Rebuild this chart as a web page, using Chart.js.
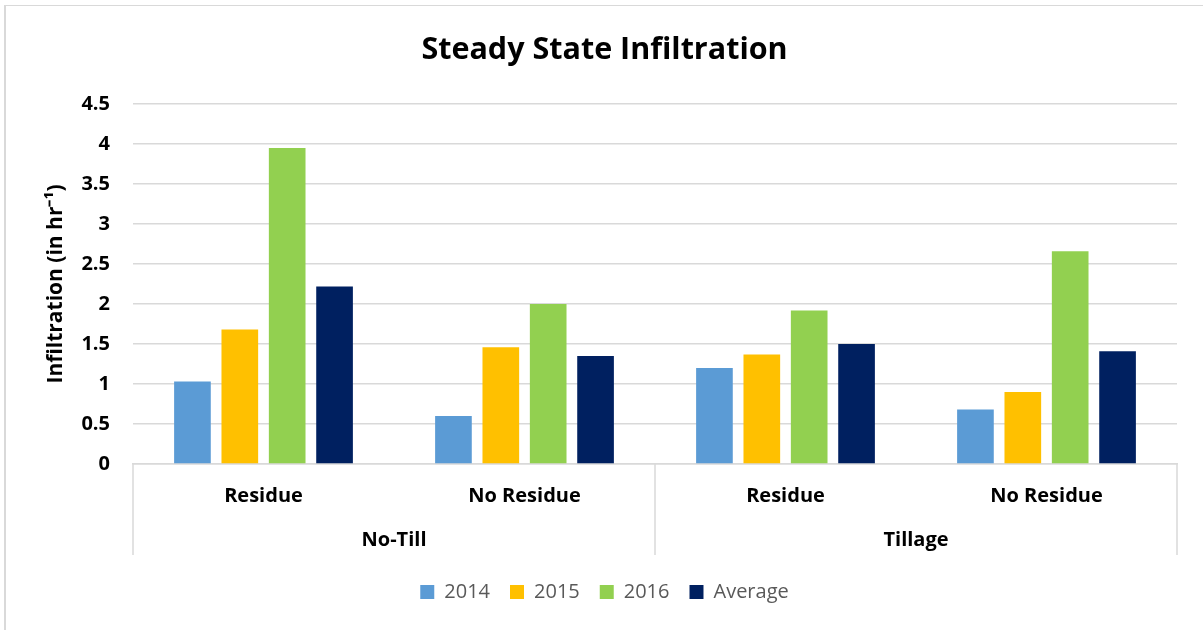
<!DOCTYPE html>
<html>
<head>
<meta charset="utf-8">
<script src="https://cdn.jsdelivr.net/npm/chart.js@4/dist/chart.umd.min.js"></script>
<style>
  html, body { margin: 0; padding: 0; background: #fff; }
  #frame {
    position: absolute; left: 4px; top: 5px;
    width: 1197px; height: 624px;
    border-left: 2px solid #d9d9d9; border-top: 1px solid #d9d9d9;
  }
  #chart { display: block; }
</style>
</head>
<body>
<div id="frame"><canvas id="chart" width="1197" height="624"></canvas></div>
<script>
// Sub-categories along the x axis and the tillage groups beneath them
const subCategories = ['Residue', 'No Residue', 'Residue', 'No Residue'];
const groupLabels = ['No-Till', 'Tillage'];

// Steady state infiltration, in hr^-1
const series2014 = [1.03, 0.60, 1.20, 0.68];
const series2015 = [1.68, 1.46, 1.37, 0.90];
const series2016 = [3.95, 2.00, 1.92, 2.66];
const seriesAverage = [2.22, 1.35, 1.50, 1.41];

const seriesNames = ['2014', '2015', '2016', 'Average'];
const seriesColors = ['#5B9BD5', '#FFC000', '#92D050', '#002060'];

const FONT = '"Open Sans", sans-serif';

// Vertical separators between the tillage groups, running through both label rows
const groupDividers = {
  id: 'groupDividers',
  afterDraw(chart) {
    const {ctx, chartArea, scales} = chart;
    const x = scales.x;
    const bottom = scales.x2.bottom - 7;
    const mid = (x.getPixelForValue(1) + x.getPixelForValue(2)) / 2;
    ctx.save();
    ctx.strokeStyle = '#d9d9d9';
    ctx.lineWidth = 1.5;
    [chartArea.left, mid, chartArea.right].forEach(px => {
      ctx.beginPath();
      ctx.moveTo(px, chartArea.bottom);
      ctx.lineTo(px, bottom);
      ctx.stroke();
    });
    ctx.restore();
  }
};

const allSeries = [series2014, series2015, series2016, seriesAverage];

new Chart(document.getElementById('chart'), {
  type: 'bar',
  data: {
    labels: subCategories,
    datasets: allSeries.map((values, i) => ({
      label: seriesNames[i],
      data: values,
      backgroundColor: seriesColors[i],
      categoryPercentage: 0.726,
      barPercentage: 0.774
    }))
  },
  options: {
    responsive: false,
    animation: false,
    layout: { padding: { left: 0, right: 0, top: 0, bottom: 18 } },
    plugins: {
      title: {
        display: true,
        text: 'Steady State Infiltration',
        color: '#000',
        font: { family: FONT, size: 30.5, weight: 'bold' },
        padding: { top: 25.7, bottom: 35.7 }
      },
      legend: {
        position: 'bottom',
        labels: {
          boxWidth: 14,
          boxHeight: 14,
          padding: 20,
          color: '#595959',
          font: { family: FONT, size: 20 }
        }
      },
      tooltip: { enabled: false }
    },
    scales: {
      y: {
        min: 0,
        max: 4.5,
        ticks: {
          stepSize: 0.5,
          padding: 23,
          color: '#000',
          font: { family: FONT, size: 20, weight: 'bold' },
          callback: v => String(v)
        },
        grid: { color: '#d9d9d9', lineWidth: 1.5, drawTicks: false },
        border: { display: false },
        title: {
          display: true,
          text: 'Infiltration (in hr\u207B\u00B9)',
          color: '#000',
          font: { family: FONT, size: 21, weight: 'bold' },
          padding: { top: 37.4, bottom: 0 }
        },
        afterFit(scale) { scale.width = 127; }
      },
      // empty margin on the right so the plot ends short of the frame
      yRight: {
        position: 'right',
        min: 0,
        max: 4.5,
        ticks: { display: false },
        grid: { display: false, drawTicks: false },
        border: { display: false },
        afterFit(scale) { scale.width = 26; }
      },
      x: {
        ticks: {
          padding: 20.5,
          color: '#000',
          font: { family: FONT, size: 20, weight: 'bold' }
        },
        grid: { display: false, drawTicks: false },
        border: { display: true, color: '#d9d9d9', width: 1.5 },
        afterFit(scale) { scale.height = 55; }
      },
      x2: {
        type: 'category',
        position: 'bottom',
        labels: groupLabels,
        offset: true,
        ticks: {
          padding: 9,
          color: '#000',
          font: { family: FONT, size: 20, weight: 'bold' }
        },
        grid: { display: false, drawTicks: false },
        border: { display: false },
        afterFit(scale) { scale.height = 43; }
      }
    }
  },
  plugins: [groupDividers]
});
</script>
</body>
</html>
